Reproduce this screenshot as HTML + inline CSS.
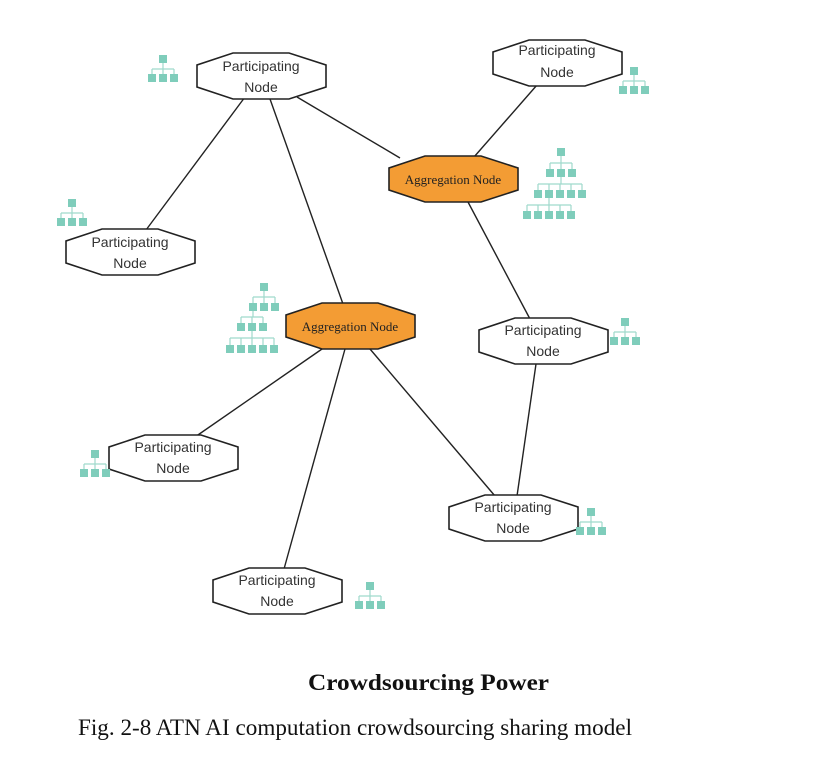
<!DOCTYPE html>
<html><head><meta charset="utf-8"><style>
html,body{margin:0;padding:0;background:#fff;}
svg{display:block;}
</style></head><body>
<svg width="814" height="757" viewBox="0 0 814 757" xmlns="http://www.w3.org/2000/svg">
<defs>
<polygon id="oct" points="36,0 92,0 129,12 129,34 92,46 36,46 0,34 0,12" stroke="#222" stroke-width="1.6"/>
<g id="st">
 <rect x="11" y="0" width="8" height="8" fill="#7fcdbb"/>
 <path d="M15 8V14M4 14H26M4 14V19M15 14V19M26 14V19" stroke="#9fd9cc" stroke-width="1.2" fill="none"/>
 <rect x="0" y="19" width="8" height="8" fill="#7fcdbb"/>
 <rect x="11" y="19" width="8" height="8" fill="#7fcdbb"/>
 <rect x="22" y="19" width="8" height="8" fill="#7fcdbb"/>
</g>
</defs>
<g stroke="#222" stroke-width="1.4">
<line x1="297" y1="97" x2="400" y2="158"/>
<line x1="245" y1="97" x2="146" y2="230"/>
<line x1="270" y1="99" x2="343" y2="304"/>
<line x1="537" y1="85" x2="474" y2="157"/>
<line x1="468" y1="202" x2="530" y2="319"/>
<line x1="322" y1="349" x2="195" y2="437"/>
<line x1="345" y1="349" x2="284" y2="569"/>
<line x1="370" y1="349" x2="495" y2="496"/>
<line x1="536" y1="364" x2="517" y2="496"/>
</g>
<g font-family="Liberation Sans, sans-serif" font-size="14" fill="#333" text-anchor="middle">
<g transform="translate(197,53)"><use href="#oct" fill="#fff"/><text x="64" y="18">Participating</text><text x="64" y="39">Node</text></g>
<g transform="translate(493,40)"><use href="#oct" fill="#fff"/><text x="64" y="15">Participating</text><text x="64" y="37">Node</text></g>
<g transform="translate(66,229)"><use href="#oct" fill="#fff"/><text x="64" y="18">Participating</text><text x="64" y="39">Node</text></g>
<g transform="translate(479,318)"><use href="#oct" fill="#fff"/><text x="64" y="17">Participating</text><text x="64" y="38">Node</text></g>
<g transform="translate(109,435)"><use href="#oct" fill="#fff"/><text x="64" y="17">Participating</text><text x="64" y="38">Node</text></g>
<g transform="translate(449,495)"><use href="#oct" fill="#fff"/><text x="64" y="17">Participating</text><text x="64" y="38">Node</text></g>
<g transform="translate(213,568)"><use href="#oct" fill="#fff"/><text x="64" y="17">Participating</text><text x="64" y="38">Node</text></g>
</g>
<g font-family="Liberation Serif, serif" font-size="13" fill="#222" text-anchor="middle">
<g transform="translate(389,156)"><use href="#oct" fill="#f39c34"/><text x="64" y="28">Aggregation Node</text></g>
<g transform="translate(286,303)"><use href="#oct" fill="#f39c34"/><text x="64" y="28">Aggregation Node</text></g>
</g>
<use href="#st" x="148" y="55"/>
<use href="#st" x="619" y="67"/>
<use href="#st" x="57" y="199"/>
<use href="#st" x="610" y="318"/>
<use href="#st" x="80" y="450"/>
<use href="#st" x="576" y="508"/>
<use href="#st" x="355" y="582"/>
<g fill="#7fcdbb">
<rect x="557" y="148" width="8" height="8"/>
<rect x="546" y="169" width="8" height="8"/><rect x="557" y="169" width="8" height="8"/><rect x="568" y="169" width="8" height="8"/>
<rect x="534" y="190" width="8" height="8"/><rect x="545" y="190" width="8" height="8"/><rect x="556" y="190" width="8" height="8"/><rect x="567" y="190" width="8" height="8"/><rect x="578" y="190" width="8" height="8"/>
<rect x="523" y="211" width="8" height="8"/><rect x="534" y="211" width="8" height="8"/><rect x="545" y="211" width="8" height="8"/><rect x="556" y="211" width="8" height="8"/><rect x="567" y="211" width="8" height="8"/>
</g>
<path d="M561 156V163M550 163H572M550 163V169M561 163V169M572 163V169M561 177V184M538 184H582M538 184V190M549 184V190M560 184V190M571 184V190M582 184V190M549 198V205M527 205H571M527 205V211M538 205V211M549 205V211M560 205V211M571 205V211" stroke="#9fd9cc" stroke-width="1.2" fill="none"/>
<g fill="#7fcdbb">
<rect x="260" y="283" width="8" height="8"/>
<rect x="249" y="303" width="8" height="8"/><rect x="260" y="303" width="8" height="8"/><rect x="271" y="303" width="8" height="8"/>
<rect x="237" y="323" width="8" height="8"/><rect x="248" y="323" width="8" height="8"/><rect x="259" y="323" width="8" height="8"/>
<rect x="226" y="345" width="8" height="8"/><rect x="237" y="345" width="8" height="8"/><rect x="248" y="345" width="8" height="8"/><rect x="259" y="345" width="8" height="8"/><rect x="270" y="345" width="8" height="8"/>
</g>
<path d="M264 291V297M253 297H275M253 297V303M264 297V303M275 297V303M253 311V317M241 317H263M241 317V323M252 317V323M263 317V323M252 331V338M230 338H274M230 338V345M241 338V345M252 338V345M263 338V345M274 338V345" stroke="#9fd9cc" stroke-width="1.2" fill="none"/>
<text x="308" y="690" font-family="Liberation Serif, serif" font-weight="bold" font-size="23" fill="#111" textLength="241" lengthAdjust="spacingAndGlyphs">Crowdsourcing Power</text>
<text x="78" y="735" font-family="Liberation Serif, serif" font-size="23" fill="#111" textLength="554" lengthAdjust="spacingAndGlyphs">Fig. 2-8 ATN AI computation crowdsourcing sharing model</text>
</svg>
</body></html>
